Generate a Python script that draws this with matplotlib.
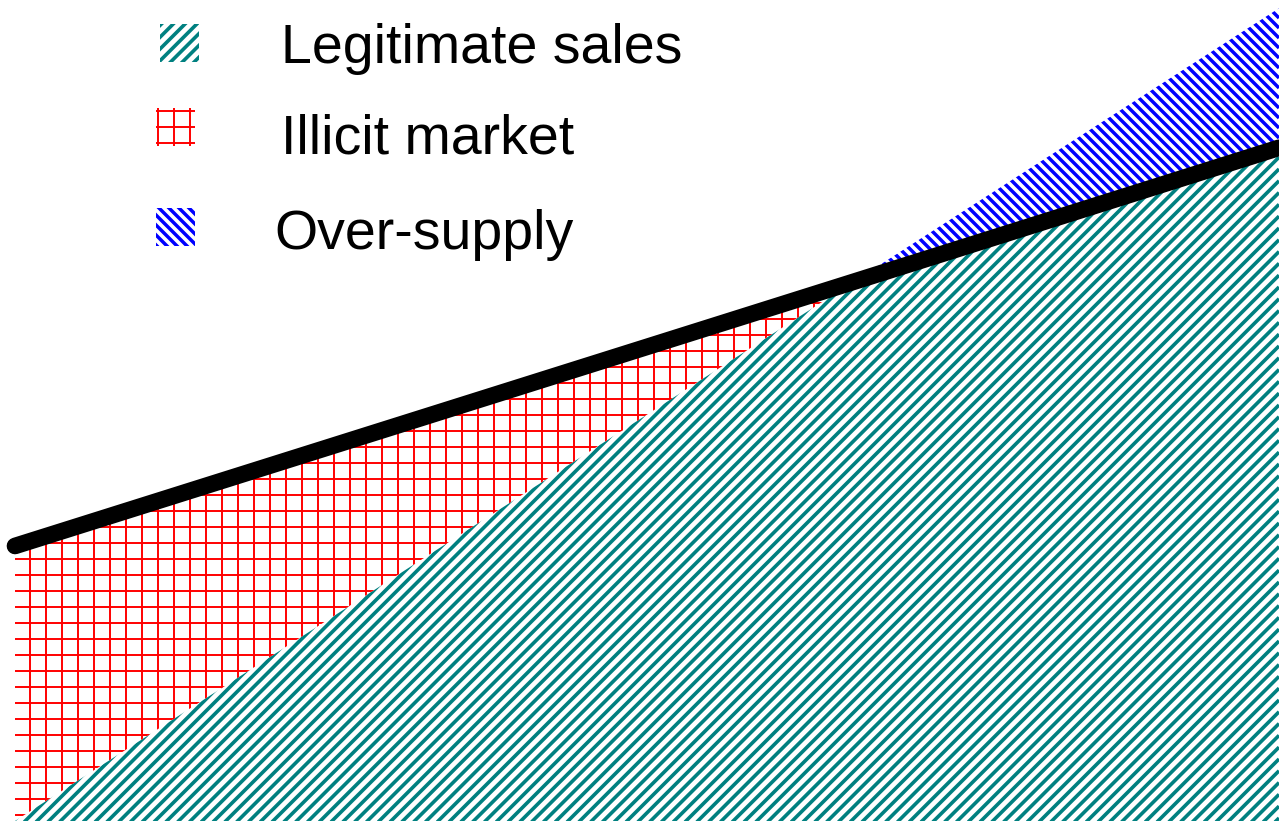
import numpy as np
import matplotlib
matplotlib.use("Agg")
import matplotlib.pyplot as plt
from matplotlib.collections import LineCollection
from matplotlib.patches import Rectangle
from matplotlib.transforms import IdentityTransform

# ---- data (conceptual units) ----
x = [0, 100]                 # time / quantity axis
demand = [33.5, 82.0]        # total demand (thick black line)
supply = [0.0, 99.0]         # legitimate supply line
labels = ["Legitimate sales", "Illicit market", "Over-supply"]
colors = ["#008080", "#ff0000", "#0000ff"]

W, H = 1279, 821
fig = plt.figure(figsize=(W / 100, H / 100), dpi=100)
ax = fig.add_axes([0, 0, 1, 1])
ax.set_xlim(-15 / 12.64, 100)
ax.set_ylim(0, 100)
ax.axis("off")


def hatch_lines(kind, spacing, phase_x=0.0, phase_y=0.0):
    segs = []
    if kind == "/":
        for c in np.arange(-W + phase_y, H + spacing, spacing):
            segs.append([(0, c), (W, c + W)])
    elif kind == "\\":
        for c in np.arange(phase_y, H + W + spacing, spacing):
            segs.append([(0, c), (W, c - W)])
    elif kind == "+":
        for xv in np.arange(phase_x, W + spacing, spacing):
            segs.append([(xv, 0), (xv, H)])
        for yv in np.arange(phase_y, H + spacing, spacing):
            segs.append([(0, yv), (W, yv)])
    return segs


def add_hatch(kind, spacing, color, lw, path, trans, phase_x=0.0, phase_y=0.0):
    lc = LineCollection(hatch_lines(kind, spacing, phase_x, phase_y),
                        colors=color, linewidths=lw,
                        transform=IdentityTransform(), antialiased=True)
    ax.add_collection(lc, autolim=False)
    lc.set_clip_path(path, trans)
    return lc


HATCH = {
    0: dict(kind="/", spacing=11.8, lw=2.6, phase_x=0, phase_y=3),
    1: dict(kind="+", spacing=16.0, lw=1.4, phase_x=14.0, phase_y=6.3),
    2: dict(kind="\\", spacing=10.0, lw=2.5, phase_x=0, phase_y=2),
}

# crossing of the two lines
xa = np.array(x, float)
d = np.array(demand, float)
s = np.array(supply, float)
xc = xa[0] + (d[0] - s[0]) / ((s[1] - s[0]) - (d[1] - d[0])) * (xa[1] - xa[0])
xp = np.array([xa[0], xc, xa[1]])
dp = np.interp(xp, xa, d)
sp = np.interp(xp, xa, s)
top = np.minimum(dp, sp)

regions = [
    ax.fill_between(xp, 0, top, facecolor="none", linewidth=0),
    ax.fill_between(xp[:2], sp[:2], dp[:2], facecolor="none", linewidth=0),
    ax.fill_between(xp[1:], dp[1:], sp[1:], facecolor="none", linewidth=0),
]
for i, reg in enumerate(regions):
    h = HATCH[i]
    add_hatch(h["kind"], h["spacing"], colors[i], h["lw"],
              reg.get_paths()[0], ax.transData, h["phase_x"], h["phase_y"])

ax.plot(x, demand, color="black", lw=12, solid_capstyle="round", zorder=5)

# ---- legend ----
handle_boxes = [(160, 24, 39, 38), (156, 108, 39, 38), (156, 208, 39, 38)]
text_pos = [(281, 63), (281, 153), (274, 249)]
for i, lab in enumerate(labels):
    bx, by, bw, bh = handle_boxes[i]
    r = Rectangle((bx / W, 1 - (by + bh) / H), bw / W, bh / H,
                  transform=ax.transAxes, facecolor="none", edgecolor="none")
    ax.add_patch(r)
    h = HATCH[i]
    add_hatch(h["kind"], h["spacing"], colors[i], h["lw"],
              r.get_path(), r.get_transform(), h["phase_x"], h["phase_y"])
    tx, ty = text_pos[i]
    ax.text(tx / W, 1 - ty / H, lab, transform=ax.transAxes,
            ha="left", va="baseline", fontsize=40,
            family=["Liberation Sans", "DejaVu Sans"], color="black")

fig.savefig("out.png", dpi=100)
